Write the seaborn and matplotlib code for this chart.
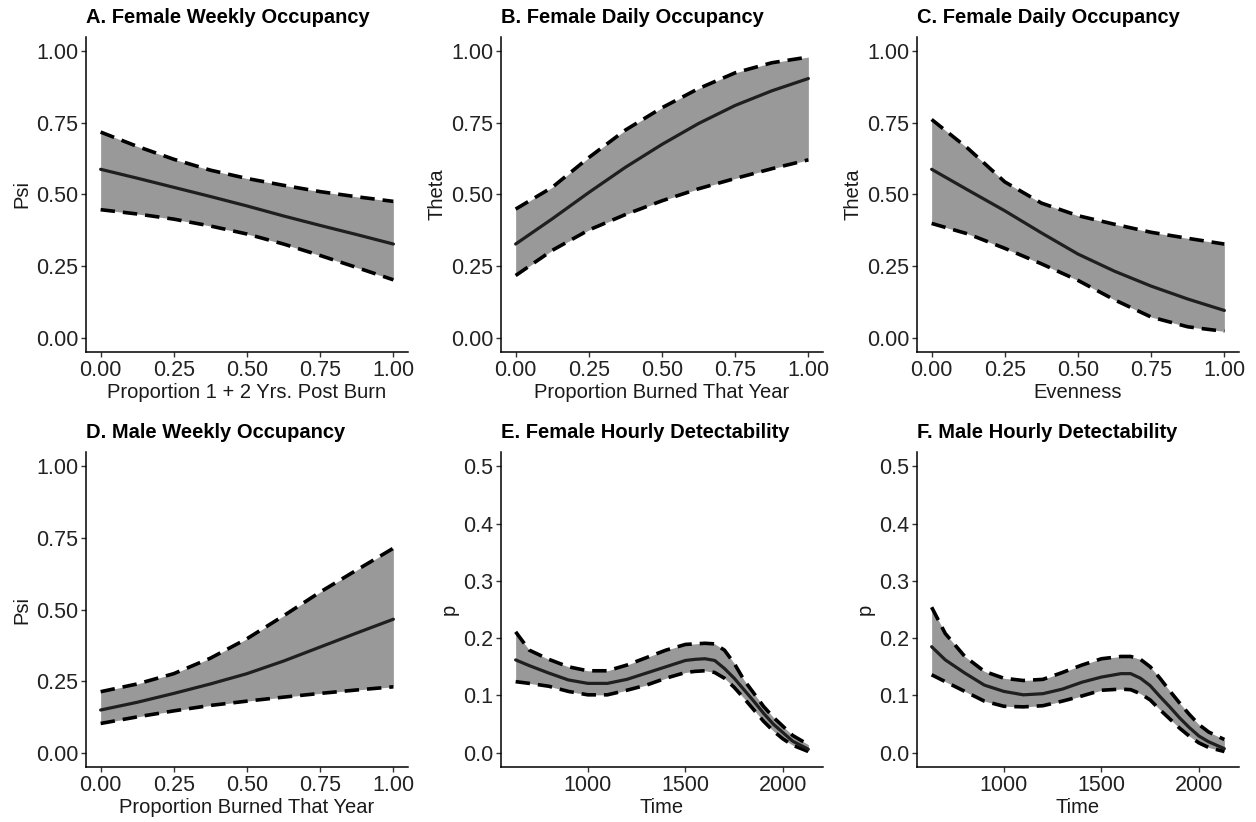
import numpy as np
import pandas as pd
import matplotlib
matplotlib.use("Agg")
import matplotlib.pyplot as plt
import seaborn as sns

# proportion covariates (panels A-D)
prop_x = [0.0, 0.125, 0.25, 0.375, 0.5, 0.625, 0.75, 0.875, 1.0]

a_mean = [0.588, 0.557, 0.525, 0.493, 0.460, 0.425, 0.392, 0.360, 0.327]
a_upper = [0.718, 0.668, 0.623, 0.585, 0.556, 0.532, 0.510, 0.492, 0.476]
a_lower = [0.447, 0.432, 0.414, 0.390, 0.362, 0.327, 0.287, 0.245, 0.202]

b_mean = [0.327, 0.415, 0.507, 0.595, 0.675, 0.748, 0.811, 0.862, 0.905]
b_upper = [0.449, 0.525, 0.629, 0.725, 0.803, 0.870, 0.925, 0.960, 0.980]
b_lower = [0.217, 0.305, 0.376, 0.430, 0.478, 0.520, 0.556, 0.590, 0.621]

c_mean = [0.588, 0.515, 0.443, 0.366, 0.292, 0.232, 0.180, 0.135, 0.095]
c_upper = [0.762, 0.660, 0.544, 0.470, 0.426, 0.396, 0.368, 0.347, 0.327]
c_lower = [0.399, 0.362, 0.312, 0.258, 0.200, 0.132, 0.072, 0.038, 0.022]

d_mean = [0.149, 0.176, 0.207, 0.240, 0.276, 0.320, 0.369, 0.418, 0.466]
d_upper = [0.213, 0.240, 0.276, 0.330, 0.398, 0.478, 0.561, 0.638, 0.714]
d_lower = [0.102, 0.125, 0.146, 0.165, 0.180, 0.194, 0.207, 0.219, 0.230]

# time of day (panels E-F)
time_x = [630, 700, 800, 900, 1000, 1100, 1200, 1300, 1400, 1500, 1550, 1600, 1650,
          1700, 1750, 1800, 1850, 1900, 1950, 2000, 2050, 2130]

e_mean = [0.162, 0.152, 0.139, 0.127, 0.121, 0.121, 0.128, 0.139, 0.150, 0.161, 0.163,
          0.164, 0.161, 0.147, 0.130, 0.110, 0.090, 0.069, 0.050, 0.035, 0.020, 0.006]
e_upper = [0.211, 0.179, 0.163, 0.150, 0.143, 0.143, 0.153, 0.166, 0.179, 0.189, 0.190,
           0.191, 0.190, 0.179, 0.156, 0.127, 0.104, 0.081, 0.062, 0.046, 0.030, 0.014]
e_lower = [0.124, 0.121, 0.116, 0.107, 0.101, 0.101, 0.109, 0.118, 0.130, 0.140, 0.142,
           0.143, 0.140, 0.130, 0.114, 0.095, 0.075, 0.055, 0.038, 0.024, 0.013, 0.002]

f_mean = [0.185, 0.162, 0.139, 0.118, 0.107, 0.101, 0.103, 0.111, 0.123, 0.132, 0.135,
          0.138, 0.138, 0.130, 0.117, 0.098, 0.080, 0.061, 0.044, 0.029, 0.019, 0.007]
f_upper = [0.254, 0.208, 0.168, 0.142, 0.130, 0.126, 0.128, 0.140, 0.153, 0.164, 0.166,
           0.168, 0.168, 0.163, 0.150, 0.130, 0.108, 0.087, 0.067, 0.049, 0.036, 0.023]
f_lower = [0.136, 0.124, 0.107, 0.090, 0.081, 0.080, 0.082, 0.090, 0.099, 0.109, 0.110,
           0.111, 0.110, 0.103, 0.092, 0.075, 0.059, 0.043, 0.029, 0.017, 0.009, 0.002]

prop_ticks = [0.0, 0.25, 0.5, 0.75, 1.0]
occ_ticks = [0.0, 0.25, 0.5, 0.75, 1.0]
time_ticks = [1000, 1500, 2000]
p_ticks = [0.0, 0.1, 0.2, 0.3, 0.4, 0.5]


def draw_panel(ax, x, mean, lower, upper, title, xlabel, ylabel, xticks, yticks, ylim, fmt):
    """Ribbon with dashed limits and a solid mean line."""
    df = pd.DataFrame({"x": x, "mean": mean, "lower": lower, "upper": upper})
    ax.fill_between(df["x"], df["lower"], df["upper"], color="#999999", lw=0)
    for col in ["lower", "upper"]:
        sns.lineplot(data=df, x="x", y=col, ax=ax, color="black", lw=2.6,
                     linestyle=(0, (4, 2.2)), errorbar=None, sort=False)
    sns.lineplot(data=df, x="x", y="mean", ax=ax, color="#1f1f1f", lw=2.3,
                 errorbar=None, sort=False)

    xr = max(x) - min(x)
    ax.set_xlim(min(x) - 0.05 * xr, max(x) + 0.05 * xr)
    yr = ylim[1] - ylim[0]
    ax.set_ylim(ylim[0] - 0.05 * yr, ylim[1] + 0.05 * yr)
    ax.set_xticks(xticks)
    ax.set_yticks(yticks)
    ax.set_xticklabels([fmt[0].format(v) for v in xticks])
    ax.set_yticklabels([fmt[1].format(v) for v in yticks])
    ax.set_title(title, loc="left", fontsize=14.5, fontweight="bold", pad=10, color="black")
    ax.set_xlabel(xlabel, fontsize=14.5, labelpad=1.5, color="#1a1a1a")
    ax.set_ylabel(ylabel, fontsize=14.5, labelpad=3, color="#1a1a1a")
    ax.tick_params(axis="both", labelsize=15.5, length=3.5, width=1, color="#333333",
                   labelcolor="#222222", pad=2)
    for side in ["top", "right"]:
        ax.spines[side].set_visible(False)
    for side in ["left", "bottom"]:
        ax.spines[side].set_linewidth(1.1)
        ax.spines[side].set_color("black")


sns.set_theme(style="ticks")
plt.rcParams["font.family"] = ["Liberation Sans", "DejaVu Sans"]

fig = plt.figure(figsize=(12.56, 8.22), dpi=100)
W, H = 1256, 822
lefts = [86, 501, 917]
tops = [37, 452]
pw, ph = 322, 315
axes = []
for t in tops:
    for l in lefts:
        axes.append(fig.add_axes([l / W, 1 - (t + ph) / H, pw / W, ph / H]))

prop_fmt = ("{:.2f}", "{:.2f}")
time_fmt = ("{:.0f}", "{:.1f}")

draw_panel(axes[0], prop_x, a_mean, a_lower, a_upper, "A. Female Weekly Occupancy",
           "Proportion 1 + 2 Yrs. Post Burn", "Psi", prop_ticks, occ_ticks, (0, 1), prop_fmt)
draw_panel(axes[1], prop_x, b_mean, b_lower, b_upper, "B. Female Daily Occupancy",
           "Proportion Burned That Year", "Theta", prop_ticks, occ_ticks, (0, 1), prop_fmt)
draw_panel(axes[2], prop_x, c_mean, c_lower, c_upper, "C. Female Daily Occupancy",
           "Evenness", "Theta", prop_ticks, occ_ticks, (0, 1), prop_fmt)
draw_panel(axes[3], prop_x, d_mean, d_lower, d_upper, "D. Male Weekly Occupancy",
           "Proportion Burned That Year", "Psi", prop_ticks, occ_ticks, (0, 1), prop_fmt)
draw_panel(axes[4], time_x, e_mean, e_lower, e_upper, "E. Female Hourly Detectability",
           "Time", "p", time_ticks, p_ticks, (0, 0.5), time_fmt)
draw_panel(axes[5], time_x, f_mean, f_lower, f_upper, "F. Male Hourly Detectability",
           "Time", "p", time_ticks, p_ticks, (0, 0.5), time_fmt)

fig.savefig("out.png", dpi=100, facecolor="white")
